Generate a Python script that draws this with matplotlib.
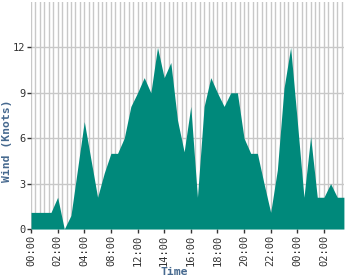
import matplotlib
matplotlib.use("Agg")
import matplotlib.pyplot as plt
from matplotlib.ticker import MultipleLocator
import numpy as np

# wind speed readings, one every 30 min
wind = [1.1, 1.1, 1.1, 1.1, 2.1, 0.0, 0.9, 4.0, 7.1, 4.6,
        2.1, 3.7, 5.0, 5.0, 6.0, 8.1, 9.0, 10.0, 9.0, 12.0,
        10.0, 11.0, 7.2, 5.1, 8.1, 2.1, 8.1, 10.0, 9.0, 8.1,
        9.0, 9.0, 6.0, 5.0, 5.0, 3.0, 1.1, 3.9, 9.3, 12.0,
        7.1, 2.1, 6.1, 2.1, 2.1, 3.0, 2.1, 2.1]
tick_labels = ["00:00", "02:00", "04:00", "08:00", "12:00", "14:00",
               "16:00", "18:00", "20:00", "22:00", "00:00", "02:00"]
y_ticks = [0, 3, 6, 9, 12]

x = np.arange(len(wind))

fig = plt.figure(figsize=(3.5, 2.8), dpi=100)
ax = fig.add_axes([0.0886, 0.182, 0.894, 0.811])

ax.fill_between(x, 0, wind, color="#00897B", linewidth=0, zorder=3)

ax.set_xlim(0, len(wind) - 1)
ax.set_ylim(0, 15)
ax.set_yticks(y_ticks)
ax.set_xticks(x[::4])
ax.set_xticklabels(tick_labels[:len(x[::4])], rotation=90)
ax.xaxis.set_minor_locator(MultipleLocator(2 / 3))

ax.grid(True, axis="y", color="#c8c8c8", linewidth=1)
ax.grid(True, axis="x", which="both", color="#c8c8c8", linewidth=1)
ax.set_axisbelow(True)

for s in ax.spines.values():
    s.set_visible(False)

ax.tick_params(axis="both", which="major", length=3, width=1, color="#333333",
               labelsize=7.5, labelcolor="#333333", pad=1)
ax.tick_params(axis="x", which="minor", length=0)
for lbl in ax.get_xticklabels() + ax.get_yticklabels():
    lbl.set_family("DejaVu Sans Mono")

ax.set_xlabel("Time", fontsize=8.2, fontweight="bold", color="#46698f",
              family="DejaVu Sans Mono")
ax.set_ylabel("Wind (Knots)", fontsize=8.2, fontweight="bold", color="#46698f",
              family="DejaVu Sans Mono")
ax.xaxis.set_label_coords(0.458, -0.165)
ax.yaxis.set_label_coords(-0.062, 0.39)

fig.savefig("out.png", dpi=100)
